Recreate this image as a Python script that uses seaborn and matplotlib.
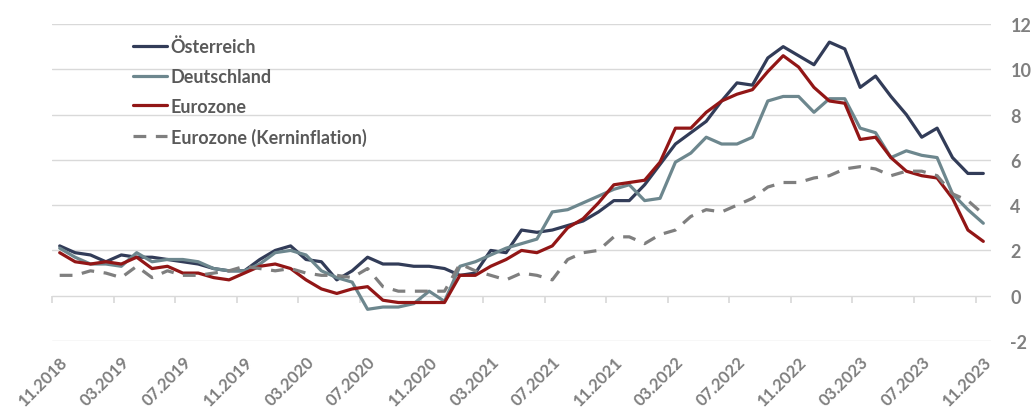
import numpy as np
import pandas as pd
import matplotlib
matplotlib.use("Agg")
import matplotlib.pyplot as plt
import seaborn as sns

# monthly inflation rates (% yoy), 11.2018 - 11.2023
months = pd.period_range("2018-11", "2023-11", freq="M").strftime("%m.%Y").tolist()

oesterreich = [2.2, 1.9, 1.8, 1.5, 1.8, 1.7, 1.7, 1.6, 1.5, 1.4, 1.2, 1.1,
               1.1, 1.6, 2.0, 2.2, 1.6, 1.5, 0.7, 1.1, 1.7, 1.4, 1.4, 1.3,
               1.3, 1.2, 0.9, 1.0, 2.0, 1.9, 2.9, 2.8, 2.9, 3.1, 3.3, 3.7,
               4.2, 4.2, 4.9, 5.8, 6.7, 7.2, 7.7, 8.6, 9.4, 9.3, 10.5, 11.0,
               10.6, 10.2, 11.2, 10.9, 9.2, 9.7, 8.8, 8.0, 7.0, 7.4, 6.1, 5.4, 5.4]

deutschland = [2.1, 1.7, 1.4, 1.4, 1.3, 1.9, 1.5, 1.6, 1.6, 1.5, 1.2, 1.1,
               1.1, 1.4, 1.9, 2.0, 1.8, 1.1, 0.8, 0.6, -0.6, -0.5, -0.5, -0.35,
               0.2, -0.25, 1.3, 1.5, 1.8, 2.1, 2.3, 2.5, 3.7, 3.8, 4.1, 4.4,
               4.7, 4.9, 4.2, 4.3, 5.9, 6.3, 7.0, 6.7, 6.7, 7.0, 8.6, 8.8,
               8.8, 8.1, 8.7, 8.7, 7.4, 7.2, 6.1, 6.4, 6.2, 6.1, 4.5, 3.8, 3.2]

eurozone = [1.9, 1.5, 1.4, 1.5, 1.4, 1.7, 1.2, 1.3, 1.0, 1.0, 0.8, 0.7,
            1.0, 1.3, 1.4, 1.2, 0.7, 0.3, 0.1, 0.3, 0.4, -0.2, -0.3, -0.3,
            -0.3, -0.3, 0.9, 0.9, 1.3, 1.6, 2.0, 1.9, 2.2, 3.0, 3.4, 4.1,
            4.9, 5.0, 5.1, 5.9, 7.4, 7.4, 8.1, 8.6, 8.9, 9.1, 9.9, 10.6,
            10.1, 9.2, 8.6, 8.5, 6.9, 7.0, 6.1, 5.5, 5.3, 5.2, 4.3, 2.9, 2.4]

eurozone_kern = [0.9, 0.9, 1.1, 1.0, 0.8, 1.3, 0.8, 1.1, 0.9, 0.9, 1.0, 1.1,
                 1.3, 1.2, 1.1, 1.2, 1.0, 0.9, 0.9, 0.8, 1.2, 0.4, 0.2, 0.2,
                 0.2, 0.2, 1.4, 1.1, 0.9, 0.7, 1.0, 0.9, 0.7, 1.6, 1.9, 2.0,
                 2.6, 2.6, 2.3, 2.7, 2.9, 3.5, 3.8, 3.7, 4.0, 4.3, 4.8, 5.0,
                 5.0, 5.2, 5.3, 5.6, 5.7, 5.6, 5.3, 5.5, 5.5, 5.3, 4.5, 4.2, 3.6]

tick_labels = ["11.2018", "03.2019", "07.2019", "11.2019", "03.2020", "07.2020",
               "11.2020", "03.2021", "07.2021", "11.2021", "03.2022", "07.2022",
               "11.2022", "03.2023", "07.2023", "11.2023"]
y_ticks = [-2, 0, 2, 4, 6, 8, 10, 12]

series_order = ["Österreich", "Deutschland", "Eurozone", "Eurozone (Kerninflation)"]
palette = {
    "Österreich": "#323c58",
    "Deutschland": "#6d878e",
    "Eurozone": "#921616",
    "Eurozone (Kerninflation)": "#7f7f7f",
}
dashes = {
    "Österreich": "",
    "Deutschland": "",
    "Eurozone": "",
    "Eurozone (Kerninflation)": (4, 3),
}

wide = pd.DataFrame({
    "monat": months,
    "Österreich": oesterreich,
    "Deutschland": deutschland,
    "Eurozone": eurozone,
    "Eurozone (Kerninflation)": eurozone_kern,
})
wide["pos"] = np.arange(len(months))
df = wide.melt(id_vars=["monat", "pos"], var_name="serie", value_name="wert")

sns.set_theme(style="white")
plt.rcParams["font.family"] = ["Lato", "DejaVu Sans"]

fig = plt.figure(figsize=(10.31, 4.14), dpi=100)
ax = fig.add_axes([52 / 1031, 1 - 342 / 414, 939 / 1031, 317 / 414])

sns.lineplot(
    data=df, x="pos", y="wert", hue="serie", style="serie",
    hue_order=series_order, style_order=series_order,
    palette=palette, dashes=dashes, linewidth=2.3, sort=False, ax=ax,
)

ax.set_xlim(-0.5, len(months) - 0.5)
ax.set_ylim(-2, 12)
ax.set_xlabel("")
ax.set_ylabel("")
for s in ax.spines.values():
    s.set_visible(False)

ax.yaxis.grid(True, color="#d9d9d9", linewidth=1)
ax.xaxis.grid(False)
ax.set_axisbelow(True)

# right-hand y axis
ax.yaxis.tick_right()
ax.set_yticks(y_ticks)
ax.set_yticklabels([str(v) for v in y_ticks], fontweight="bold")
ax.tick_params(axis="y", length=0, pad=14, labelsize=13, labelcolor="#7f7f7f")

# x labels every 4 months at the bottom
ax.set_xticks(range(0, len(months), 4))
ax.set_xticklabels(tick_labels, rotation=45, ha="right", rotation_mode="anchor",
                   fontweight="bold")
ax.tick_params(axis="x", length=0, pad=9, labelsize=12, labelcolor="#7f7f7f")

# small tick marks on the zero line, between categories
sec = ax.secondary_xaxis(2 / 14)
sec.set_xticks(np.arange(-0.5, len(months) - 1, 4))
sec.xaxis.set_ticks_position("bottom")
sec.tick_params(axis="x", direction="out", length=5, color="#d9d9d9",
                labelbottom=False, labeltop=False)
for s in sec.spines.values():
    s.set_visible(False)

handles, labels = ax.get_legend_handles_labels()
ax.legend(handles, labels, loc="upper left", bbox_to_anchor=(0.086, 0.957),
          frameon=False, prop={"weight": "bold", "size": 13}, labelcolor="#595959",
          handlelength=1.9, handletextpad=0.2, labelspacing=0.7,
          borderaxespad=0, borderpad=0)

fig.savefig("out.png", dpi=100)
